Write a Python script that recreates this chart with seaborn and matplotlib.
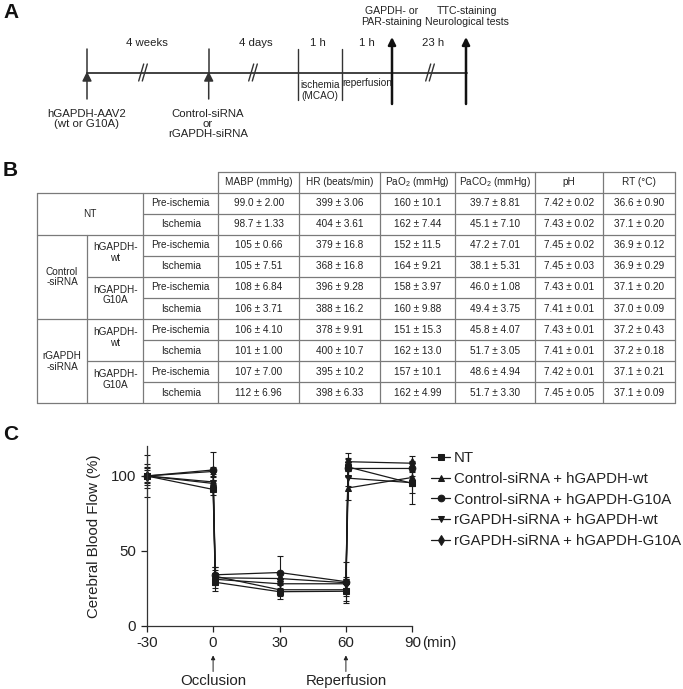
import numpy as np
import pandas as pd
import matplotlib
matplotlib.use('Agg')
import matplotlib.pyplot as plt
import matplotlib.transforms as mtransforms
import seaborn as sns

# ---- panel C data: cerebral blood flow (%) ----
times = [-30, 0, 1, 30, 60, 61, 90]
groups = ['NT', 'Control-siRNA + hGAPDH-wt', 'Control-siRNA + hGAPDH-G10A',
          'rGAPDH-siRNA + hGAPDH-wt', 'rGAPDH-siRNA + hGAPDH-G10A']
nt_cbf = [100, 91, 29, 22.7, 23, 106, 95]
ctrl_wt_cbf = [100, 96, 33, 24, 24, 92, 99]
ctrl_g10a_cbf = [100, 104, 34, 35.5, 29.4, 105, 105]
rg_wt_cbf = [100, 95, 31, 28, 28, 98.5, 95.5]
rg_g10a_cbf = [100, 103, 32, 31.5, 28.7, 109.5, 108.5]
nt_err = [14, 4, 6, 5, 8, 6, 14]
ctrl_wt_err = [8, 5, 4, 4, 4, 8, 6]
ctrl_g10a_err = [5, 12, 5, 11, 13, 6, 5]
rg_wt_err = [6, 4, 4, 3, 3, 5, 7]
rg_g10a_err = [4, 3, 7, 4, 4, 6, 5]
markers = ['s', '^', 'o', 'v', 'd']

# ---- panel B data: physiological parameters ----
col_heads = ['MABP (mmHg)', 'HR (beats/min)', r'PaO$_\mathregular{2}$ (mmHg)',
             r'PaCO$_\mathregular{2}$ (mmHg)', 'pH', 'RT (°C)']
phases = ['Pre-ischemia', 'Ischemia'] * 5
mabp = ['99.0 ± 2.00', '98.7 ± 1.33', '105 ± 0.66', '105 ± 7.51', '108 ± 6.84',
        '106 ± 3.71', '106 ± 4.10', '101 ± 1.00', '107 ± 7.00', '112 ± 6.96']
hr = ['399 ± 3.06', '404 ± 3.61', '379 ± 16.8', '368 ± 16.8', '396 ± 9.28',
      '388 ± 16.2', '378 ± 9.91', '400 ± 10.7', '395 ± 10.2', '398 ± 6.33']
pao2 = ['160 ± 10.1', '162 ± 7.44', '152 ± 11.5', '164 ± 9.21', '158 ± 3.97',
        '160 ± 9.88', '151 ± 15.3', '162 ± 13.0', '157 ± 10.1', '162 ± 4.99']
paco2 = ['39.7 ± 8.81', '45.1 ± 7.10', '47.2 ± 7.01', '38.1 ± 5.31', '46.0 ± 1.08',
         '49.4 ± 3.75', '45.8 ± 4.07', '51.7 ± 3.05', '48.6 ± 4.94', '51.7 ± 3.30']
ph = ['7.42 ± 0.02', '7.43 ± 0.02', '7.45 ± 0.02', '7.45 ± 0.03', '7.43 ± 0.01',
      '7.41 ± 0.01', '7.43 ± 0.01', '7.41 ± 0.01', '7.42 ± 0.01', '7.45 ± 0.05']
rt = ['36.6 ± 0.90', '37.1 ± 0.20', '36.9 ± 0.12', '36.9 ± 0.29', '37.1 ± 0.20',
      '37.0 ± 0.09', '37.2 ± 0.43', '37.2 ± 0.18', '37.1 ± 0.21', '37.1 ± 0.09']

sns.set_style('ticks')
plt.rcParams['font.family'] = ['Liberation Sans', 'DejaVu Sans']
plt.rcParams['mathtext.fontset'] = 'custom'
plt.rcParams['mathtext.rm'] = 'Liberation Sans'
plt.rcParams['axes.unicode_minus'] = False

txt = '#222222'
fig = plt.figure(figsize=(6.83, 6.89), dpi=100)

# overlay axes in pixel coordinates for panels A and B
ov = fig.add_axes([0, 0, 1, 1])
ov.set_xlim(0, 683)
ov.set_ylim(689, 0)
ov.axis('off')

# panel letters
for lab, yy in [('A', 12), ('B', 171), ('C', 435)]:
    ov.text(3, yy, lab, fontsize=15, fontweight='bold', va='center', ha='left', color='#111')

# ---- panel A: timeline ----
fs_a = 7.6
lc = '#333333'
ov.plot([86.7, 466.7], [72.7, 72.7], color=lc, lw=1.3)
for x in [87, 208.7]:
    ov.plot([x, x], [49, 73], color=lc, lw=1.1)
    ov.annotate('', xy=(x, 71.5), xytext=(x, 99),
                arrowprops=dict(arrowstyle='-|>', color=lc, lw=1.1, mutation_scale=14,
                                shrinkA=0, shrinkB=0))
for x in [297.7, 342]:
    ov.plot([x, x], [49, 100], color=lc, lw=1.0)
for x in [392, 466]:
    ov.annotate('', xy=(x, 37), xytext=(x, 104),
                arrowprops=dict(arrowstyle='-|>', color='#111', lw=1.8, mutation_scale=11,
                                shrinkA=0, shrinkB=0))
for x in [143, 253, 430]:
    for dx in [-1.8, 1.8]:
        ov.plot([x + dx - 2.5, x + dx + 2.5], [81, 64], color=lc, lw=1.0)

ov.text(147, 43, '4 weeks', ha='center', va='center', fontsize=fs_a + 0.6, color=txt)
ov.text(256, 43, '4 days', ha='center', va='center', fontsize=fs_a + 0.6, color=txt)
ov.text(318, 43, '1 h', ha='center', va='center', fontsize=fs_a + 0.6, color=txt)
ov.text(367, 43, '1 h', ha='center', va='center', fontsize=fs_a + 0.6, color=txt)
ov.text(433, 43, '23 h', ha='center', va='center', fontsize=fs_a + 0.6, color=txt)
ov.text(392, 16.5, 'GAPDH- or\nPAR-staining', ha='center', va='center', fontsize=fs_a,
        color=txt, linespacing=1.1)
ov.text(467, 16.5, 'TTC-staining\nNeurological tests', ha='center', va='center',
        fontsize=fs_a, color=txt, linespacing=1.1)
ov.text(320, 90.5, 'ischemia\n(MCAO)', ha='center', va='center', fontsize=fs_a * 0.95,
        color=txt, linespacing=1.05)
ov.text(367, 83.5, 'reperfusion', ha='center', va='center', fontsize=fs_a * 0.95, color=txt)
ov.text(87, 119, 'hGAPDH-AAV2\n(wt or G10A)', ha='center', va='center', fontsize=fs_a + 0.6,
        color=txt, linespacing=1.05)
ov.text(208, 124, 'Control-siRNA\nor\nrGAPDH-siRNA', ha='center', va='center',
        fontsize=fs_a + 0.6, color=txt, linespacing=1.0)

# ---- panel B: table ----
fs_b = 7.2
gc = '#7a7a7a'
xs = [36.7, 87.3, 143.3, 218.3, 299.3, 380, 455, 535, 603.3, 675]
h_top, r_top, r_h = 172, 192.7, 21.06
ys = [r_top + i * r_h for i in range(11)]
# horizontal rules
ov.plot([xs[3], xs[-1]], [h_top, h_top], color=gc, lw=0.9)
starts = [xs[0], xs[2], xs[0], xs[2], xs[1], xs[2], xs[0], xs[2], xs[1], xs[2], xs[0]]
for y, x0 in zip(ys, starts):
    ov.plot([x0, xs[-1]], [y, y], color=gc, lw=0.9)
# vertical rules
ov.plot([xs[0], xs[0]], [ys[0], ys[10]], color=gc, lw=0.9)
ov.plot([xs[1], xs[1]], [ys[2], ys[10]], color=gc, lw=0.9)
ov.plot([xs[2], xs[2]], [ys[0], ys[10]], color=gc, lw=0.9)
for x in xs[3:]:
    ov.plot([x, x], [h_top, ys[10]], color=gc, lw=0.9)

for j, head in enumerate(col_heads):
    ov.text((xs[3 + j] + xs[4 + j]) / 2, (h_top + r_top) / 2, head, ha='center',
            va='center', fontsize=fs_b, color=txt)
cols = [mabp, hr, pao2, paco2, ph, rt]
for i in range(10):
    yc = (ys[i] + ys[i + 1]) / 2
    ov.text((xs[2] + xs[3]) / 2, yc, phases[i], ha='center', va='center', fontsize=fs_b, color=txt)
    for j, col in enumerate(cols):
        ov.text((xs[3 + j] + xs[4 + j]) / 2, yc, col[i], ha='center', va='center',
                fontsize=fs_b, color=txt)
ov.text((xs[0] + xs[2]) / 2, ys[1], 'NT', ha='center', va='center', fontsize=fs_b, color=txt)
ov.text((xs[0] + xs[1]) / 2, ys[4], 'Control\n-siRNA', ha='center', va='center',
        fontsize=fs_b, color=txt, linespacing=1.1)
ov.text((xs[0] + xs[1]) / 2, ys[8], 'rGAPDH\n-siRNA', ha='center', va='center',
        fontsize=fs_b, color=txt, linespacing=1.1)
for k, sub in zip([3, 5, 7, 9], ['hGAPDH-\nwt', 'hGAPDH-\nG10A', 'hGAPDH-\nwt', 'hGAPDH-\nG10A']):
    ov.text((xs[1] + xs[2]) / 2, ys[k] - 3, sub, ha='center', va='center',
            fontsize=fs_b, color=txt, linespacing=1.1)

# ---- panel C: cerebral blood flow ----
ax = fig.add_axes([146.7 / 683, 1 - 625.7 / 689, 265.6 / 683, 179.7 / 689])
series = [nt_cbf, ctrl_wt_cbf, ctrl_g10a_cbf, rg_wt_cbf, rg_g10a_cbf]
errs = [nt_err, ctrl_wt_err, ctrl_g10a_err, rg_wt_err, rg_g10a_err]
df = pd.DataFrame({
    'time': np.tile(times, len(groups)),
    'cbf': np.concatenate(series),
    'group': np.repeat(groups, len(times)),
})
sns.lineplot(data=df, x='time', y='cbf', hue='group', style='group', hue_order=groups,
             style_order=groups, palette=['#1a1a1a'] * 5, markers=markers, dashes=False,
             markersize=4.8, markeredgecolor='#1a1a1a', linewidth=0.9, ax=ax, clip_on=False)
for vals, e in zip(series, errs):
    ax.errorbar(times, vals, yerr=e, fmt='none', ecolor='#1a1a1a', elinewidth=0.8,
                capsize=2.5, capthick=0.8, zorder=1, clip_on=False)

ax.set_xlim(-30, 90)
ax.set_ylim(0, 120)
ax.set_xticks([-30, 0, 30, 60, 90])
ax.set_yticks([0, 50, 100])
ax.tick_params(labelsize=10.8, colors='#222', length=4, width=0.9)
for s in ['left', 'bottom']:
    ax.spines[s].set_color('#333')
    ax.spines[s].set_linewidth(0.9)
sns.despine(ax=ax)
ax.set_xlabel('')
ax.set_ylabel('Cerebral Blood Flow (%)', fontsize=10.8, color='#222', labelpad=7)

trans = mtransforms.blended_transform_factory(ax.transData, ax.transAxes)
ax.text(94.3, -0.096, '(min)', transform=trans, ha='left', va='center', fontsize=10.8,
        color='#222', clip_on=False)
for x, lab in [(0, 'Occlusion'), (60, 'Reperfusion')]:
    ax.annotate('', xy=(x, -0.165), xytext=(x, -0.255), xycoords=trans, textcoords=trans,
                arrowprops=dict(arrowstyle='-|>', color='#222', lw=0.7, mutation_scale=6,
                                shrinkA=0, shrinkB=0))
    ax.text(x, -0.31, lab, transform=trans, ha='center', va='center', fontsize=10.8,
            color='#222', clip_on=False)

sns.move_legend(ax, 'upper left', bbox_to_anchor=(1.07, 0.97), frameon=False, title=None,
                fontsize=10.8, handlelength=1.3, handletextpad=0.25, labelspacing=0.44,
                borderpad=0, borderaxespad=0)
for t in ax.get_legend().get_texts():
    t.set_color('#222')

fig.savefig('out.png', dpi=100)
